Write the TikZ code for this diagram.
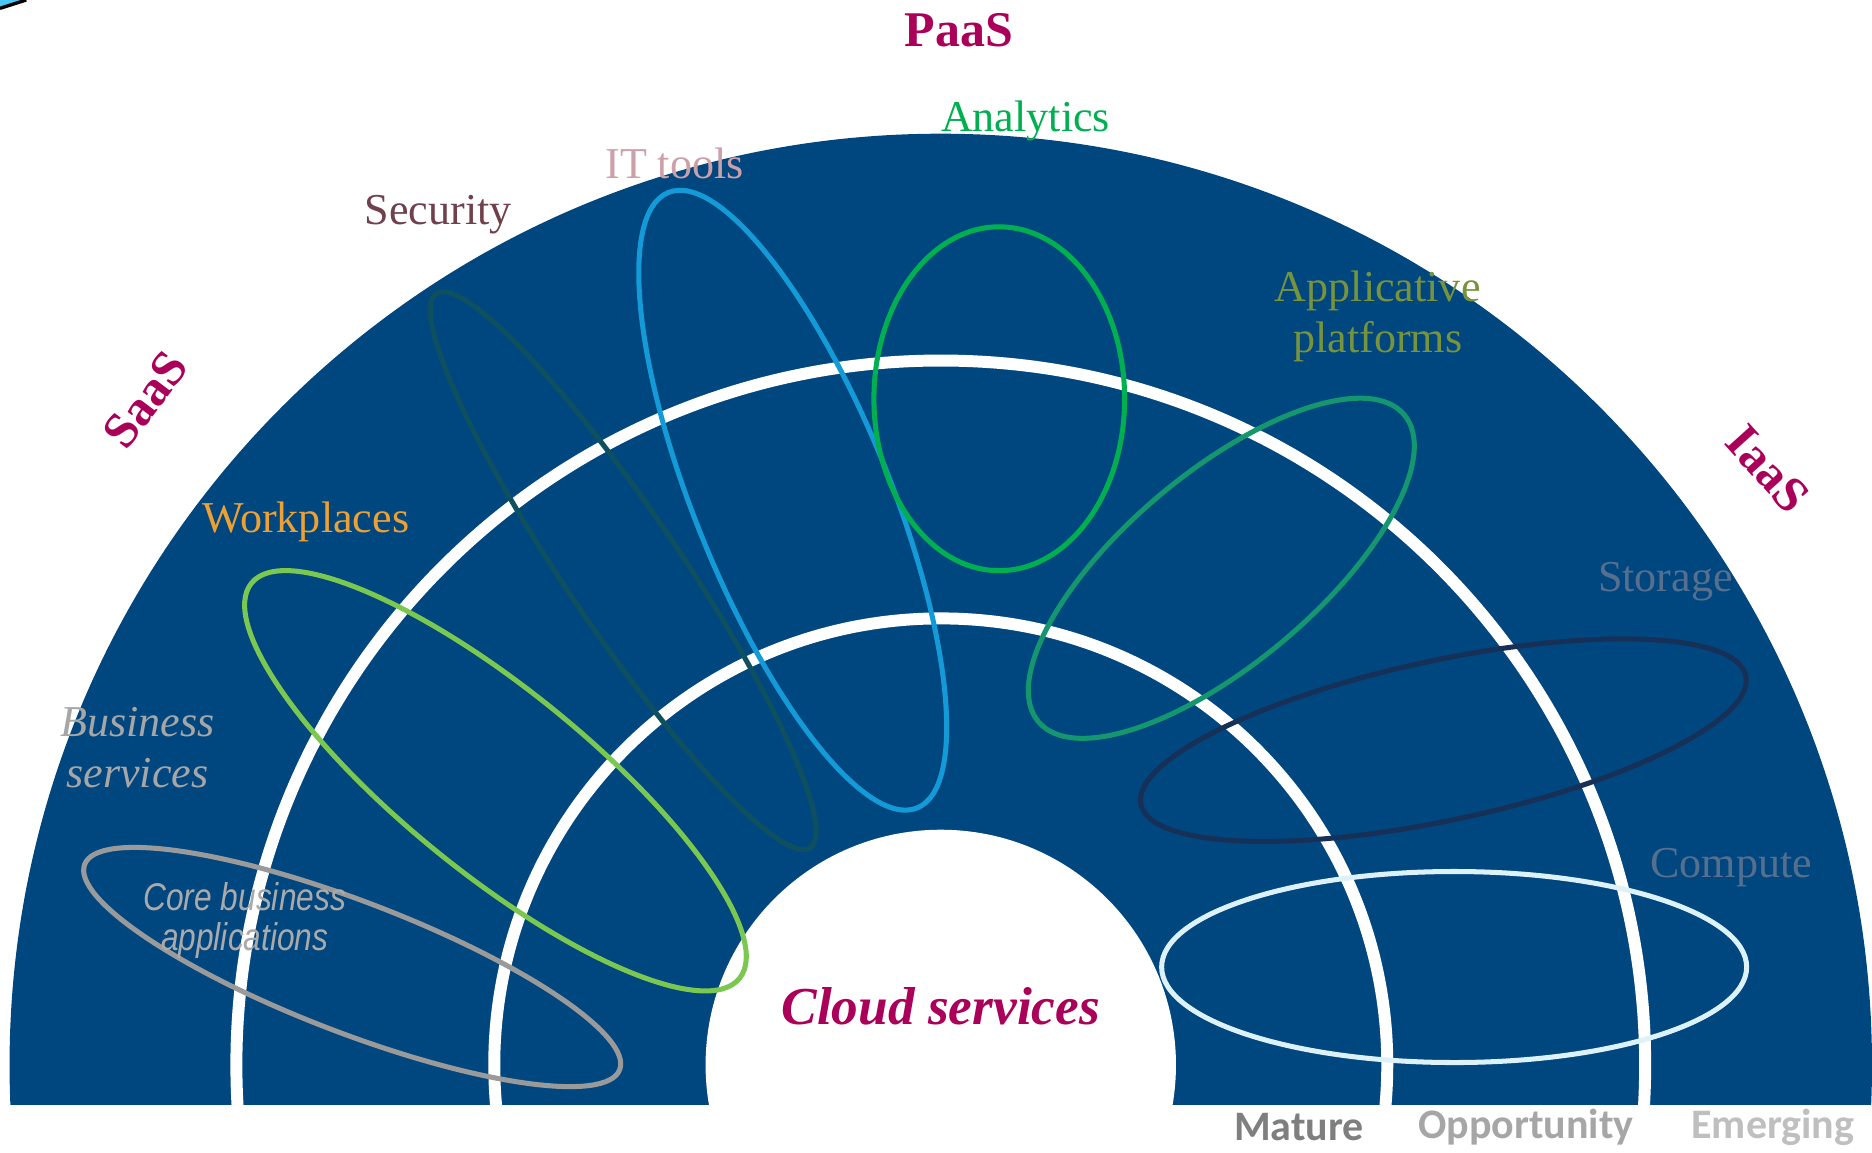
\documentclass[tikz,border=0pt]{standalone}
\usepackage{fontspec}
\setmainfont{Liberation Serif}
\newfontfamily\narrowsans[FakeStretch=0.82]{Liberation Sans}
\newfontfamily\legendfont{Carlito}
\definecolor{cloudblue}{RGB}{0,71,128}
\definecolor{crimson}{RGB}{170,0,90}
\definecolor{anagreen}{RGB}{0,176,80}
\definecolor{itpink}{RGB}{204,160,168}
\definecolor{secbrown}{RGB}{112,64,76}
\definecolor{appolive}{RGB}{119,147,60}
\definecolor{workorange}{RGB}{237,160,51}
\definecolor{bizgray}{RGB}{166,166,166}
\definecolor{infrablue}{RGB}{86,111,143}
\definecolor{coregray}{RGB}{154,154,154}
\definecolor{coretext}{RGB}{170,170,170}
\definecolor{workgreen}{RGB}{122,200,80}
\definecolor{secteal}{RGB}{14,80,95}
\definecolor{itblue}{RGB}{20,155,215}
\definecolor{appteal}{RGB}{20,150,110}
\definecolor{stornavy}{RGB}{22,48,88}
\definecolor{compice}{RGB}{220,242,248}
\definecolor{legdark}{RGB}{127,127,127}
\definecolor{legmid}{RGB}{166,166,166}
\definecolor{leglight}{RGB}{191,191,191}
\begin{document}
\begin{tikzpicture}[x=0.01cm,y=0.01cm,
  ring/.style={draw=white,line width=2.85pt},
  oval/.style={line width=1.2pt},
  tier/.style={font=\fontsize{11.9}{14}\selectfont\bfseries,text=crimson,inner sep=0pt},
  cat/.style={font=\fontsize{10.5}{12.2}\selectfont,inner sep=0pt,align=center},
  legend/.style={font=\legendfont\fontsize{10}{12}\selectfont\bfseries,inner sep=0pt}]
\useasboundingbox (0,0) rectangle (1568,-965);
\fill[white] (0,0) rectangle (1568,-965);
% corner artifact
\fill[cyan!70] (0,0) -- (22,0) -- (0,-7) -- cycle;
\draw[black,line width=0.8pt] (22,0) -- (0,-7);
% half disc with rings
\begin{scope}
  \clip (0,-925) rectangle (1568,0);
  \fill[cloudblue] (788,-892) circle (780);
  \draw[ring] (788,-892) circle (590);
  \draw[ring] (788,-892) circle (374);
  \fill[white] (788,-892) circle (197);
\end{scope}
% ellipses
\draw[oval,draw=coregray,rotate around={-21:(295,-810)}] (295,-810) ellipse [x radius=240,y radius=55];
\draw[oval,draw=workgreen,rotate around={-39:(415,-654)}] (415,-654) ellipse [x radius=263,y radius=77];
\draw[oval,draw=secteal,rotate around={-56:(522,-478)}] (522,-478) ellipse [x radius=280,y radius=48];
\draw[oval,draw=itblue,rotate around={-68:(664,-419)}] (664,-419) ellipse [x radius=278,y radius=82];
\draw[oval,draw=anagreen] (837,-334) ellipse [x radius=105,y radius=144];
\draw[oval,draw=appteal,rotate around={40:(1023,-476)}] (1023,-476) ellipse [x radius=200,y radius=80];
\draw[oval,draw=stornavy,rotate around={12:(1209,-620)}] (1209,-620) ellipse [x radius=259,y radius=67];
\draw[oval,draw=compice] (1218,-810) ellipse [x radius=245,y radius=80];
% tier labels
\node[tier] (paas) at (803,-25) {PaaS};
\node[tier,rotate=53] (saas) at (122,-335) {SaaS};
\node[tier,rotate=-48] (iaas) at (1481,-393) {IaaS};
% category labels
\node[cat,text=anagreen] (analytics) at (859,-101) {Analytics};
\node[cat,text=itpink] (ittools) at (565,-137) {IT tools};
\node[cat,text=secbrown] (security) at (367,-180) {Security};
\node[cat,text=appolive] (applicative) at (1154,-265) {Applicative\\platforms};
\node[cat,text=workorange] (workplaces) at (256,-437) {Workplaces};
\node[cat,text=bizgray,font=\fontsize{10.5}{12.2}\selectfont\itshape] (business) at (115,-626) {Business\\services};
\node[cat,text=infrablue] (storage) at (1395,-487) {Storage};
\node[cat,text=infrablue] (compute) at (1450,-727) {Compute};
\node[inner sep=0pt,align=center,text=coretext,font=\narrowsans\itshape\fontsize{9.2}{9.4}\selectfont] (core) at (205,-771) {Core business\\applications};
\node[inner sep=0pt,text=crimson,font=\fontsize{12.7}{15}\selectfont\bfseries\itshape] (cloud) at (788,-843) {Cloud services};
% legend
\node[legend,text=legdark] (mature) at (1088,-944) {Mature};
\node[legend,text=legmid] (opportunity) at (1278,-944) {Opportunity};
\node[legend,text=leglight] (emerging) at (1485,-944) {Emerging};
\end{tikzpicture}
\end{document}
